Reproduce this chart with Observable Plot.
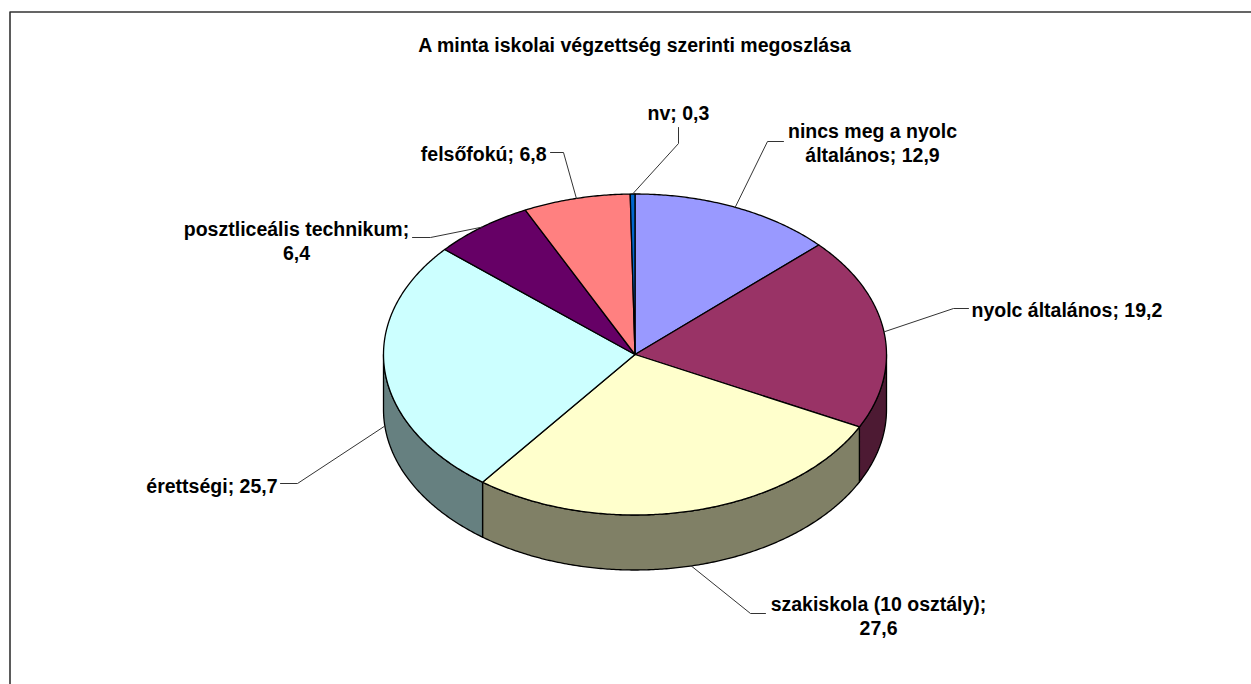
<!DOCTYPE html>
<html>
<head>
<meta charset="utf-8">
<script src="https://cdn.jsdelivr.net/npm/d3@7"></script>
<script src="https://cdn.jsdelivr.net/npm/@observablehq/plot@0.6"></script>
<style>
  html, body { margin: 0; padding: 0; background: #fff; }
  #chart svg { display: block; }
</style>
</head>
<body>
<div id="chart"></div>
<script>
// ---- data ----
const title = "A minta iskolai végzettség szerinti megoszlása";
const categories = ["nincs meg a nyolc általános", "nyolc általános", "szakiskola (10 osztály)", "érettségi", "posztliceális technikum", "felsőfokú", "nv"];
const values = [12.9, 19.2, 27.6, 25.7, 6.4, 6.8, 0.3];
const valueLabels = ["12,9", "19,2", "27,6", "25,7", "6,4", "6,8", "0,3"];

// ---- styles ----
const topColors = ["#9999FF", "#993366", "#FFFFCC", "#CCFFFF", "#660066", "#FF8080", "#0066CC"];
const sideColors = ["#4D4D80", "#4D1A33", "#808066", "#668080", "#330033", "#804040", "#003366"];

// ---- layout ----
const W = 1251, H = 684;
const pie = {cx: 634.5, cy: 354, rx: 251.5, ry: 160.5, depth: 55};
// label placement: edge = end of the leader next to the text, elbow = bend of the leader
const labelLayout = [
  {edge: [783, 141], elbow: [767, 141], text: [872, 141.5], anchor: "middle", breakAfter: 4},
  {edge: [968, 308], elbow: [953, 308], text: [971, 309], anchor: "start", breakAfter: 0},
  {edge: [765, 613], elbow: [750, 613], text: [878, 614.5], anchor: "middle", breakAfter: 3},
  {edge: [280, 483], elbow: [297, 483], text: [277, 485], anchor: "end", breakAfter: 0},
  {edge: [412, 237], elbow: [430, 237], text: [296, 239.5], anchor: "middle", breakAfter: 2},
  {edge: [550, 152], elbow: [563, 152], text: [546, 153], anchor: "end", breakAfter: 0},
  {edge: [678, 127], elbow: [678, 143], text: [678, 112], anchor: "middle", breakAfter: 0}
];

const total = d3.sum(values);
const rad = Math.PI / 180;
const pt = (deg, dz = 0) => ({x: pie.cx + pie.rx * Math.sin(deg * rad), y: pie.cy - pie.ry * Math.cos(deg * rad) + dz});

function arc(a0, a1, dz = 0) {
  const n = Math.max(2, Math.ceil(Math.abs(a1 - a0) / 0.5));
  return d3.range(n + 1).map(i => pt(a0 + (a1 - a0) * i / n, dz));
}

let acc = 0;
const slices = values.map((v, i) => {
  const a0 = acc / total * 360;
  acc += v;
  const a1 = acc / total * 360;
  return {i, a0, a1, mid: (a0 + a1) / 2};
});

const marks = [];

// sides (front half only: 90..270 degrees)
for (const s of slices) {
  const lo = Math.max(s.a0, 90), hi = Math.min(s.a1, 270);
  if (hi > lo) {
    const poly = [...arc(lo, hi), ...arc(hi, lo, pie.depth)];
    marks.push(Plot.line(poly, {x: "x", y: "y", curve: "linear-closed", fill: sideColors[s.i], stroke: "#000", strokeWidth: 1.3, strokeLinejoin: "round"}));
  }
}
// tops
for (const s of slices) {
  const poly = [{x: pie.cx, y: pie.cy}, ...arc(s.a0, s.a1)];
  marks.push(Plot.line(poly, {x: "x", y: "y", curve: "linear-closed", fill: topColors[s.i], stroke: "#000", strokeWidth: 1.3, strokeLinejoin: "round"}));
}

// leaders
const leaders = [];
for (const s of slices) {
  const L = labelLayout[s.i];
  const front = Math.cos(s.mid * rad) < 0;
  const a = pt(s.mid, front ? pie.depth : 0);
  leaders.push({k: s.i, x: a.x, y: a.y});
  leaders.push({k: s.i, x: L.elbow[0], y: L.elbow[1]});
  leaders.push({k: s.i, x: L.edge[0], y: L.edge[1]});
}
marks.push(Plot.line(leaders, {x: "x", y: "y", z: "k", stroke: "#333", strokeWidth: 1}));

// labels
const labels = slices.map(s => {
  const L = labelLayout[s.i];
  const words = (categories[s.i] + "; " + valueLabels[s.i]).split(" ");
  const txt = L.breakAfter ? words.slice(0, L.breakAfter).join(" ") + "\n" + words.slice(L.breakAfter).join(" ") : words.join(" ");
  return {x: L.text[0], y: L.text[1], txt, anchor: L.anchor};
});
for (const anchor of ["start", "middle", "end"]) {
  marks.push(Plot.text(labels.filter(d => d.anchor === anchor), {
    x: "x", y: "y", text: "txt", textAnchor: anchor, lineAnchor: "middle", lineHeight: 1.25,
    fontSize: 19.5, fontWeight: "bold", fill: "#000"
  }));
}

// title
marks.push(Plot.text([title], {x: () => 634, y: () => 45, text: d => d, fontSize: 19.5, fontWeight: "bold", fill: "#000", lineAnchor: "middle"}));

// chart area frame (extends past the right and bottom edges)
marks.push(Plot.line([{x: W + 10, y: 11.5}, {x: 9.5, y: 11.5}, {x: 9.5, y: H + 10}], {x: "x", y: "y", stroke: "#333", strokeWidth: 1.6}));

const chart = Plot.plot({
  width: W, height: H,
  margin: 0,
  x: {domain: [0, W], range: [0, W], axis: null},
  y: {domain: [0, H], range: [0, H], axis: null},
  style: {fontFamily: "'Liberation Sans', Arial, sans-serif", background: "#fff", overflow: "visible"},
  marks
});
document.getElementById("chart").appendChild(chart);
</script>
</body>
</html>
